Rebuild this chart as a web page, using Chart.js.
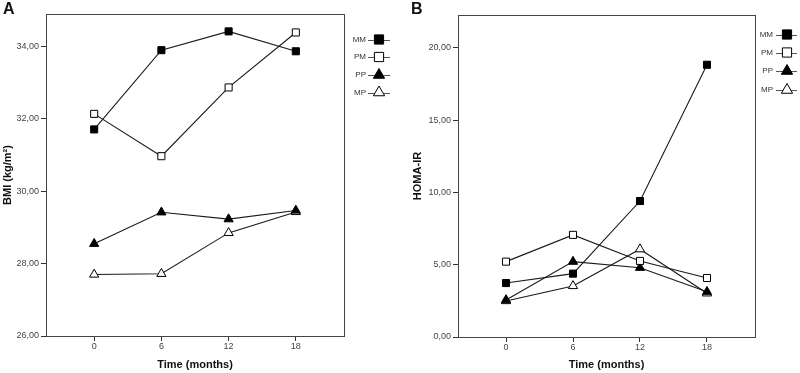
<!DOCTYPE html>
<html>
<head>
<meta charset="utf-8">
<script src="https://cdn.jsdelivr.net/npm/chart.js@4.4.1/dist/chart.umd.min.js"></script>
<style>
  html, body { margin: 0; padding: 0; background: #fff; }
  #wrap { position: relative; width: 800px; height: 373px; overflow: hidden; }
  canvas { position: absolute; top: 0; }
  .panel { position: absolute; font: bold 16px "Liberation Sans", Arial, sans-serif; color: #111; }
</style>
</head>
<body>
<div id="wrap">
  <canvas id="cA" width="400" height="373" style="left:0"></canvas>
  <canvas id="cB" width="400" height="373" style="left:400px"></canvas>
  <div class="panel" style="left:3px;top:0px">A</div>
  <div class="panel" style="left:411px;top:0px">B</div>
</div>
<script>
// ---- data ----
const timePoints = [0, 6, 12, 18];
const seriesLabels = ['MM', 'PM', 'PP', 'MP'];
const bmiMM = [31.71, 33.90, 34.42, 33.87];
const bmiPM = [32.14, 30.97, 32.87, 34.39];
const bmiPP = [28.55, 29.42, 29.23, 29.47];
const bmiMP = [27.70, 27.72, 28.85, 29.43];
const homaMM = [3.73, 4.38, 9.40, 18.82];
const homaPM = [5.21, 7.06, 5.26, 4.08];
const homaPP = [2.56, 5.21, 4.79, 3.13];
const homaMP = [2.49, 3.53, 6.07, 3.02];
const bmiTicks = [26, 28, 30, 32, 34];
const homaTicks = [0, 5, 10, 15, 20];

const FONT = '"Liberation Sans", Arial, sans-serif';
const styles = [
  { pointStyle: 'rect', fill: '#000', radius: 5 },
  { pointStyle: 'rect', fill: '#fff', radius: 5 },
  { pointStyle: 'triangle', fill: '#000', radius: 5.3 },
  { pointStyle: 'triangle', fill: '#fff', radius: 5.3 }
];

function makeDatasets(arrs) {
  return arrs.map((vals, i) => ({
    label: seriesLabels[i],
    data: timePoints.map((t, j) => ({ x: t, y: vals[j] })),
    borderColor: '#1a1a1a',
    borderWidth: 1.1,
    pointStyle: styles[i].pointStyle,
    pointRadius: styles[i].radius,
    pointHoverRadius: styles[i].radius,
    pointBackgroundColor: styles[i].fill,
    pointBorderColor: '#000',
    pointBorderWidth: 1,
    fill: false,
    tension: 0
  }));
}

function fmt(v) { return v.toFixed(2).replace('.', ','); }

function drawMarker(ctx, style, fill, x, y, r) {
  ctx.save();
  ctx.fillStyle = fill;
  ctx.strokeStyle = '#000';
  ctx.lineWidth = 1;
  ctx.beginPath();
  if (style === 'rect') {
    const s = r * Math.SQRT1_2;
    ctx.rect(x - s, y - s, 2 * s, 2 * s);
  } else {
    const a = Math.PI * 2 / 3;
    ctx.moveTo(x, y - r);
    ctx.lineTo(x + Math.sin(a) * r, y - Math.cos(a) * r);
    ctx.lineTo(x + Math.sin(2 * a) * r, y - Math.cos(2 * a) * r);
    ctx.closePath();
  }
  ctx.fill();
  ctx.stroke();
  ctx.restore();
}

const framePlugin = {
  id: 'frame',
  beforeDatasetsDraw(chart) {
    const { ctx, chartArea: a } = chart;
    ctx.save();
    ctx.strokeStyle = '#444';
    ctx.lineWidth = 1;
    ctx.strokeRect(Math.round(a.left) + 0.5, Math.round(a.top) + 0.5,
      Math.round(a.right - a.left), Math.round(a.bottom - a.top));
    ctx.restore();
  }
};

const legendPlugin = {
  id: 'sideLegend',
  afterDraw(chart, args, o) {
    const ctx = chart.ctx;
    chart.data.datasets.forEach((ds, i) => {
      const y = o.rows[i];
      ctx.save();
      ctx.font = '8px ' + FONT;
      ctx.fillStyle = '#333';
      ctx.textAlign = 'right';
      ctx.textBaseline = 'middle';
      ctx.fillText(ds.label, o.textRight, y);
      ctx.strokeStyle = '#555';
      ctx.lineWidth = 1;
      ctx.beginPath();
      ctx.moveTo(o.lineX1, Math.round(y) + 0.5);
      ctx.lineTo(o.lineX2, Math.round(y) + 0.5);
      ctx.stroke();
      ctx.restore();
      drawMarker(ctx, ds.pointStyle, ds.pointBackgroundColor, o.markerX, y, 6.5);
    });
  }
};

function makeChart(id, datasets, yTitle, yTicks, yMin, yMax, yWidth, xHeight, pad, titlePadTop, legendOpts) {
  return new Chart(document.getElementById(id), {
    type: 'line',
    data: { datasets },
    plugins: [framePlugin, legendPlugin],
    options: {
      responsive: false,
      animation: false,
      devicePixelRatio: 1,
      layout: { padding: pad },
      plugins: {
        legend: { display: false },
        tooltip: { enabled: false },
        sideLegend: legendOpts
      },
      scales: {
        x: {
          type: 'linear',
          min: -4.3, max: 22.3,
          afterBuildTicks: s => { s.ticks = timePoints.map(v => ({ value: v })); },
          afterFit: s => { s.height = xHeight; },
          grid: { drawOnChartArea: false, drawTicks: true, tickLength: 5, color: '#333' },
          border: { display: false },
          ticks: { font: { size: 9, family: FONT }, color: '#444', padding: 0, callback: v => String(v), maxRotation: 0 },
          title: { display: true, text: 'Time (months)', font: { size: 11, weight: 'bold', family: FONT }, color: '#111', padding: { top: 0, bottom: 1.4 } }
        },
        y: {
          min: yMin, max: yMax,
          afterBuildTicks: s => { s.ticks = yTicks.map(v => ({ value: v })); },
          afterFit: s => { s.width = yWidth; },
          grid: { drawOnChartArea: false, drawTicks: true, tickLength: 5, color: '#333' },
          border: { display: false },
          ticks: { font: { size: 9, family: FONT }, color: '#444', padding: 2, callback: v => fmt(v) },
          title: { display: true, text: yTitle, font: { size: 11, weight: 'bold', family: FONT }, color: '#111', padding: { top: titlePadTop, bottom: 0 } }
        }
      }
    }
  });
}

makeChart('cA', makeDatasets([bmiMM, bmiPM, bmiPP, bmiMP]), 'BMI (kg/m²)', bmiTicks, 26, 34.9,
  46, 37, { top: 14, right: 56, left: 0, bottom: 0 }, 1.4,
  { textRight: 366, lineX1: 368, lineX2: 390, markerX: 379, rows: [39.5, 57, 75, 92.5] });

makeChart('cB', makeDatasets([homaMM, homaPM, homaPP, homaMP]), 'HOMA-IR', homaTicks, 0, 22.26,
  58, 36, { top: 15, right: 45, left: 0, bottom: 0 }, 11.4,
  { textRight: 373, lineX1: 376, lineX2: 397, markerX: 387, rows: [34.5, 52.5, 71, 90] });
</script>
</body>
</html>
